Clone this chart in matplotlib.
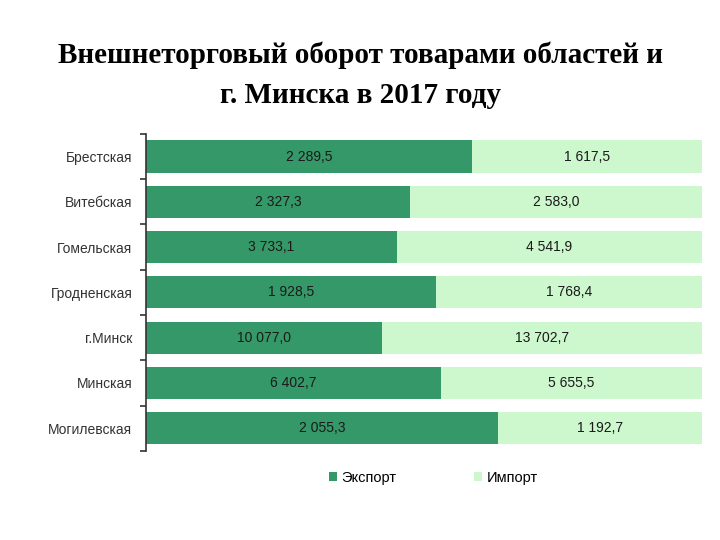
import matplotlib
matplotlib.use("Agg")
import matplotlib.pyplot as plt
import numpy as np

regions = ["Брестская", "Витебская", "Гомельская", "Гродненская", "г.Минск", "Минская", "Могилевская"]
export_vals = [2289.5, 2327.3, 3733.1, 1928.5, 10077.0, 6402.7, 2055.3]
import_vals = [1617.5, 2583.0, 4541.9, 1768.4, 13702.7, 5655.5, 1192.7]
export_labels = ["2 289,5", "2 327,3", "3 733,1", "1 928,5", "10 077,0", "6 402,7", "2 055,3"]
import_labels = ["1 617,5", "2 583,0", "4 541,9", "1 768,4", "13 702,7", "5 655,5", "1 192,7"]
series_names = ["Экспорт", "Импорт"]
title = "Внешнеторговый оборот товарами областей и\nг. Минска в 2017 году"

sans = ["Liberation Sans Narrow", "Liberation Sans", "DejaVu Sans"]
c_exp = "#359868"
c_imp = "#cdf7cd"

fig = plt.figure(figsize=(7.2, 5.4), dpi=100)
ax = fig.add_axes([0.203, 0.165, 0.772, 0.587])

exp = np.array(export_vals)
imp = np.array(import_vals)
tot = exp + imp
ef = exp / tot
imf = imp / tot
y = np.arange(len(regions))

ax.barh(y, ef, height=0.71, color=c_exp, label=series_names[0])
ax.barh(y, imf, left=ef, height=0.71, color=c_imp, label=series_names[1])

for i in range(len(regions)):
    ax.text(ef[i] / 2, y[i], export_labels[i], ha="center", va="center",
            fontsize=10, color="#1a1a1a", family=sans)
    ax.text(ef[i] + imf[i] / 2, y[i], import_labels[i], ha="center", va="center",
            fontsize=10, color="#1a1a1a", family=sans)

ax.set_xlim(0, 1)
ax.set_ylim(len(regions) - 0.5, -0.5)
ax.set_xticks([])
for s in ["top", "right", "bottom"]:
    ax.spines[s].set_visible(False)
ax.spines["left"].set_color("#333333")
ax.spines["left"].set_linewidth(1.2)

ax.set_yticks(np.arange(-0.5, len(regions), 1.0))
ax.set_yticklabels([])
ax.tick_params(axis="y", which="major", length=4, width=1.2, color="#333333", direction="out")
ax.set_yticks(y, minor=True)
ax.set_yticklabels(regions, minor=True, family=sans, fontsize=10, color="#333333")
ax.tick_params(axis="y", which="minor", length=0, pad=10)

leg = fig.legend(loc="center", bbox_to_anchor=(0.602, 0.115), ncol=2, frameon=False,
                 handlelength=0.55, handleheight=0.6, columnspacing=5.3, handletextpad=0.35,
                 prop={"family": sans, "size": 10.5})

fig.text(0.5, 0.86, title, ha="center", va="center", fontsize=21, fontweight="bold",
         family=["Liberation Serif", "DejaVu Serif"], linespacing=1.62)

fig.savefig("out.png", dpi=100)
